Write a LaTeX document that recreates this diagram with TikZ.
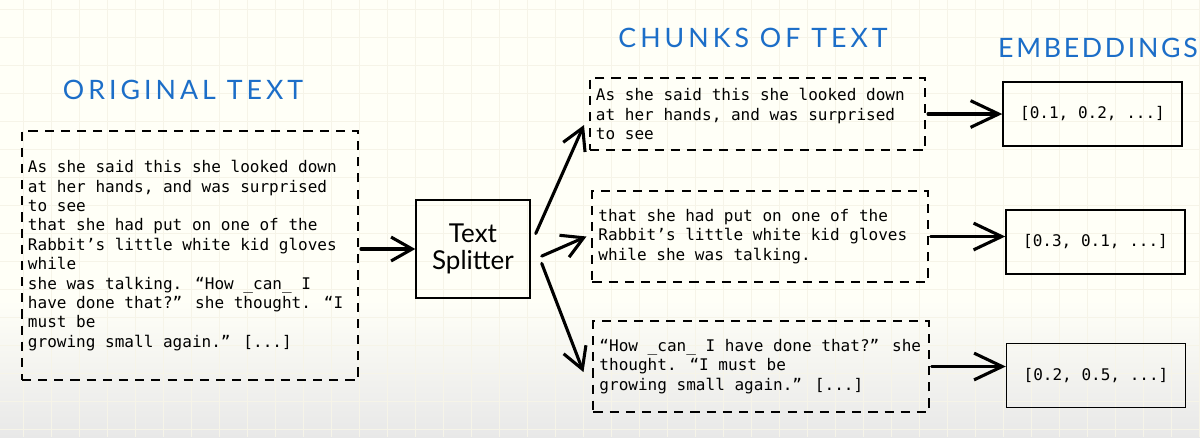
\documentclass[tikz,border=0pt]{standalone}
\usepackage{fontspec}
\setmainfont{Lato}
\newfontfamily\codefont{DejaVu Sans Mono}
\newfontfamily\handfont{Lato}[LetterSpace=15]
\newfontfamily\handfontnarrow{Lato}[LetterSpace=10]
\usepackage{tikz}
\usetikzlibrary{arrows.meta}

\definecolor{titleblue}{RGB}{28,110,200}
\definecolor{gridline}{RGB}{246,244,232}

\begin{document}
\begin{tikzpicture}[x=0.025cm,y=-0.025cm,
   every node/.style={inner sep=0pt},
   title/.style={font=\handfont\fontsize{19}{22}\selectfont, text=titleblue},
   mono/.style={font=\codefont\fontsize{11.4}{13.8}\selectfont},
   chunkbox/.style={mono, draw, line width=1.4pt, dash pattern=on 6.5pt off 5pt, align=flush left, inner xsep=0.15cm},
   embbox/.style={mono, draw, line width=1pt, minimum width=4.475cm, minimum height=1.6cm},
   arr/.style={line width=2.2pt, line cap=round, -{Straight Barb[length=15pt,width=17pt,line width=2.2pt]}},
   bigarr/.style={arr, -{Straight Barb[length=20pt,width=19pt,line width=2.2pt]}}]
   \useasboundingbox (0,0) rectangle (1200,437);
   % paper and faint grid
   \fill[white!97!yellow] (0,0) rectangle (1200,437);
   \shade[top color=white!97!yellow, bottom color=black!9] (0,300) rectangle (1200,437);
   \foreach \gx in {23,51,...,1199}
   \draw[gridline, line width=0.4pt] (\gx,0) -- (\gx,437);
   \foreach \gy in {9,37,...,437}
   \draw[gridline, line width=0.4pt] (0,\gy) -- (1200,\gy);
   % titles
   \node[title] (origtitle) at (183,90) {ORIGINAL TEXT};
   \node[title] (chunktitle) at (753,38) {CHUNKS OF TEXT};
   \node[title, font=\handfontnarrow\fontsize{19}{22}\selectfont, anchor=east] (embtitle) at (1198,48) {EMBEDDINGS};
   % the whole text
   \node[chunkbox, text width=8.1cm, minimum height=6.225cm] (orig) at (190,255.5) {As she said this she looked down\\at her hands, and was surprised\\to see\\that she had put on one of the\\Rabbit’s little white kid gloves\\while\\she was talking. “How \_can\_ I\\have done that?” she thought. “I\\must be\\growing small again.” [...]};
   % splitter
   \node[draw, line width=1pt, minimum width=2.85cm, minimum height=2.45cm, align=center, font=\fontsize{18.5}{19}\selectfont] (split) at (473,249) {Text\\Splitter};
   % three chunks
   \node[chunkbox, text width=8.075cm, minimum height=1.8cm] (chunka) at (757.5,114) {As she said this she looked down\\at her hands, and was surprised\\to see};
   \node[chunkbox, text width=8.075cm, minimum height=2.275cm] (chunkb) at (760,236.5) {that she had put on one of the\\Rabbit’s little white kid gloves\\while she was talking.};
   \node[chunkbox, text width=8.075cm, minimum height=2.275cm] (chunkc) at (761,366.5) {“How \_can\_ I have done that?” she\\thought. “I must be\\growing small again.” [...]};
   % embeddings
   \node[embbox] (emba) at (1092.5,114) {[0.1, 0.2, ...]};
   \node[embbox] (embb) at (1095.5,242) {[0.3, 0.1, ...]};
   \node[embbox] (embc) at (1096,375.5) {[0.2, 0.5, ...]};
   % arrows
   \draw[arr] ([xshift=0.05cm]orig.east |- split.west) -- (split.west);
   \draw[arr] ([xshift=0.125cm]split.15) -- ([xshift=-0.125cm,yshift=-0.275cm]chunka.west);
   \draw[arr] ([xshift=0.275cm]split.-7) -- ([xshift=-0.125cm]chunkb.west);
   \draw[arr] ([xshift=0.275cm]split.-14) -- ([xshift=-0.225cm,yshift=-0.14cm]chunkc.west);
   \draw[bigarr] ([xshift=0.05cm]chunka.east) -- (chunka.east -| emba.west);
   \draw[bigarr] ([xshift=0.05cm]chunkb.east) -- (chunkb.east -| embb.west);
   \draw[bigarr] ([xshift=0.05cm]chunkc.east) -- (chunkc.east -| embc.west);
\end{tikzpicture}
\end{document}
